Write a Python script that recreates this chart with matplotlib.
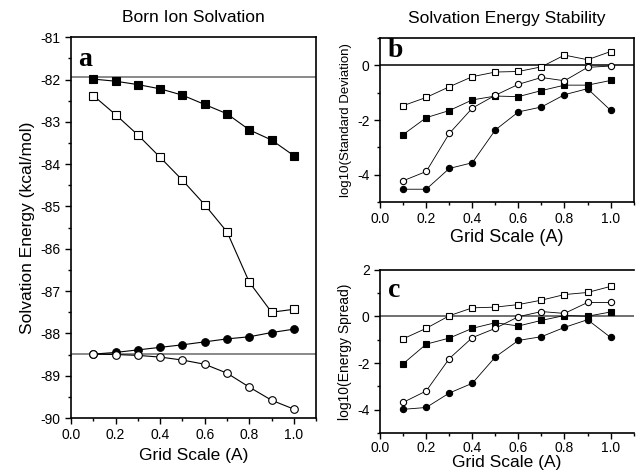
import matplotlib.pyplot as plt
from matplotlib.ticker import MultipleLocator

plt.rcParams['font.family'] = ['Liberation Sans', 'DejaVu Sans']

# grid scale values (A)
grid = [0.1, 0.2, 0.3, 0.4, 0.5, 0.6, 0.7, 0.8, 0.9, 1.0]

# panel a: Born ion solvation energy (kcal/mol)
a_filled_sq = [-81.99, -82.04, -82.12, -82.22, -82.37, -82.59, -82.81, -83.19, -83.43, -83.80]
a_open_sq = [-82.38, -82.83, -83.31, -83.84, -84.38, -84.96, -85.60, -86.79, -87.50, -87.43]
a_filled_ci = [-88.49, -88.45, -88.39, -88.33, -88.27, -88.20, -88.13, -88.08, -87.98, -87.90]
a_open_ci = [-88.49, -88.50, -88.52, -88.56, -88.63, -88.73, -88.94, -89.27, -89.58, -89.79]
a_refs = [-81.95, -88.48]

# panel b: log10(standard deviation)
b_open_sq = [-1.47, -1.17, -0.78, -0.41, -0.24, -0.22, -0.05, 0.38, 0.21, 0.51]
b_filled_sq = [-2.53, -1.91, -1.65, -1.26, -1.12, -1.14, -0.92, -0.72, -0.72, -0.55]
b_open_ci = [-4.22, -3.88, -2.49, -1.56, -1.09, -0.69, -0.44, -0.56, -0.07, -0.02]
b_filled_ci = [-4.53, -4.53, -3.77, -3.56, -2.36, -1.70, -1.52, -1.07, -0.85, -1.64]

# panel c: log10(energy spread)
c_open_sq = [-0.96, -0.51, 0.03, 0.37, 0.40, 0.51, 0.70, 0.94, 1.03, 1.29]
c_filled_sq = [-2.03, -1.19, -0.93, -0.51, -0.27, -0.41, -0.17, 0.04, 0.01, 0.19]
c_open_ci = [-3.69, -3.20, -1.81, -0.91, -0.51, -0.01, 0.21, 0.13, 0.60, 0.60]
c_filled_ci = [-3.99, -3.91, -3.29, -2.87, -1.74, -1.03, -0.87, -0.47, -0.14, -0.90]


def draw_series(ax, series, ms, lw):
    for y, marker, filled in series:
        ax.plot(grid, y, color='black', lw=lw, marker=marker, ms=ms,
                mfc='black' if filled else 'white', mec='black', mew=0.8)


def style_axes(ax, ymajor, yminor):
    ax.xaxis.set_major_locator(MultipleLocator(0.2))
    ax.xaxis.set_minor_locator(MultipleLocator(0.1))
    ax.yaxis.set_major_locator(MultipleLocator(ymajor))
    ax.yaxis.set_minor_locator(MultipleLocator(yminor))
    ax.tick_params(which='major', direction='out', length=4, width=1, labelsize=10)
    ax.tick_params(which='minor', direction='out', length=2.5, width=1)
    ax.set_xlim(0, 1.1)
    for s in ax.spines.values():
        s.set_linewidth(1.2)


fig = plt.figure(figsize=(6.4, 4.71), dpi=100)

# --- panel a ---
ax_a = fig.add_axes([0.111, 0.1125, 0.383, 0.8085])
for r in a_refs:
    ax_a.axhline(r, color='#808080', lw=1.3, zorder=1)
draw_series(ax_a, [(a_filled_sq, 's', True), (a_open_sq, 's', False),
                   (a_filled_ci, 'o', True), (a_open_ci, 'o', False)], 5.5, 0.8)
style_axes(ax_a, 1, 0.5)
ax_a.set_ylim(-90, -81)
ax_a.yaxis.set_major_formatter(plt.FuncFormatter(lambda v, p: f'{v:.0f}'))
ax_a.set_xlabel('Grid Scale (A)', fontsize=12.5)
ax_a.set_ylabel('Solvation Energy (kcal/mol)', fontsize=12.5)
ax_a.set_title('Born Ion Solvation', fontsize=12.5, pad=11)
ax_a.text(0.03, 0.975, 'a', transform=ax_a.transAxes, ha='left', va='top',
          fontsize=20, fontweight='bold', family='Liberation Serif')

# --- panel b ---
ax_b = fig.add_axes([0.594, 0.571, 0.396, 0.348])
ax_b.axhline(0, color='black', lw=1.1, zorder=1)
draw_series(ax_b, [(b_open_sq, 's', False), (b_filled_sq, 's', True),
                   (b_open_ci, 'o', False), (b_filled_ci, 'o', True)], 4.5, 0.6)
style_axes(ax_b, 2, 1)
ax_b.set_ylim(-5, 1)
ax_b.yaxis.set_major_formatter(plt.FuncFormatter(lambda v, p: f'{v:.0f}'))
ax_b.set_xlabel('Grid Scale (A)', fontsize=13, labelpad=2)
ax_b.set_ylabel('log10(Standard Deviation)', fontsize=9.5)
ax_b.set_title('Solvation Energy Stability', fontsize=12.5, pad=11)
ax_b.text(0.03, 1.0, 'b', transform=ax_b.transAxes, ha='left', va='top',
          fontsize=20, fontweight='bold', family='Liberation Serif')

# --- panel c ---
ax_c = fig.add_axes([0.594, 0.081, 0.396, 0.346])
ax_c.axhline(0, color='#707070', lw=1.4, zorder=1)
draw_series(ax_c, [(c_open_sq, 's', False), (c_filled_sq, 's', True),
                   (c_open_ci, 'o', False), (c_filled_ci, 'o', True)], 4.5, 0.6)
style_axes(ax_c, 2, 1)
ax_c.set_ylim(-5, 2)
ax_c.yaxis.set_major_formatter(plt.FuncFormatter(lambda v, p: f'{v:.0f}'))
ax_c.spines['right'].set_visible(False)
ax_c.tick_params(axis='x', which='major', pad=2)
ax_c.set_xlabel('Grid Scale (A)', fontsize=12.5, labelpad=0)
ax_c.set_ylabel('log10(Energy Spread)', fontsize=10)
ax_c.text(0.03, 0.95, 'c', transform=ax_c.transAxes, ha='left', va='top',
          fontsize=20, fontweight='bold', family='Liberation Serif')

fig.savefig('out.png', dpi=100)
